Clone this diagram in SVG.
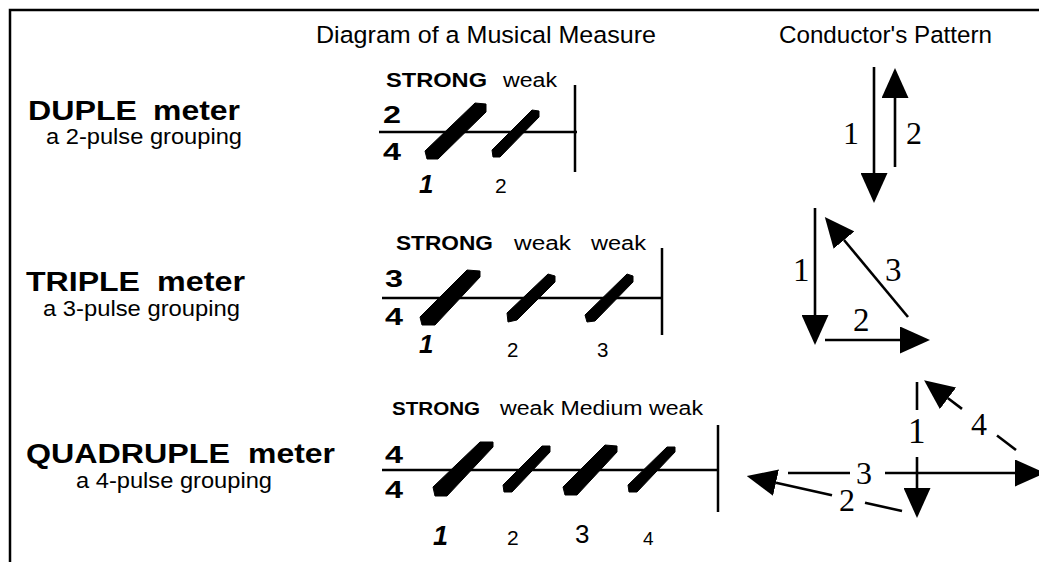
<svg xmlns="http://www.w3.org/2000/svg" width="1039" height="562" viewBox="0 0 1039 562">
<defs>
<style>
.sans{font-family:"Liberation Sans",Arial,sans-serif;fill:#000}
.b{font-weight:bold}
.ser{font-family:"Liberation Serif","Times New Roman",serif;fill:#000}
.ln{stroke:#000;stroke-width:2.5;fill:none}
.conn{stroke:#000;stroke-width:2.6;fill:none}
.sl{fill:#000;stroke:#000;stroke-width:1;stroke-linejoin:round}
</style>
<marker id="ah" viewBox="0 0 30 27" refX="0" refY="13.5" markerWidth="30" markerHeight="27" markerUnits="userSpaceOnUse" orient="auto">
<path d="M0,0 L30,13.5 L0,27 Z" fill="#000"/>
</marker>
</defs>
<rect width="1039" height="562" fill="#fff"/>
<g id="frame"><path d="M10,562 V10 H1039" class="ln" stroke-width="2.2"/></g>

<g id="headers">
<text class="sans" x="316" y="43" font-size="24.5" textLength="340" lengthAdjust="spacingAndGlyphs">Diagram of a Musical Measure</text>
<text class="sans" x="779" y="43" font-size="24.5" textLength="213" lengthAdjust="spacingAndGlyphs">Conductor's Pattern</text>
</g>

<g id="duple-label">
<text class="sans b" y="120" font-size="27"><tspan x="28" textLength="109" lengthAdjust="spacingAndGlyphs">DUPLE</tspan> <tspan x="153" textLength="87" lengthAdjust="spacingAndGlyphs">meter</tspan></text>
<text class="sans" x="46" y="144" font-size="22.5" textLength="196" lengthAdjust="spacingAndGlyphs">a 2-pulse grouping</text>
</g>
<g id="triple-label">
<text class="sans b" y="291" font-size="27"><tspan x="26" textLength="114" lengthAdjust="spacingAndGlyphs">TRIPLE</tspan> <tspan x="157" textLength="88" lengthAdjust="spacingAndGlyphs">meter</tspan></text>
<text class="sans" x="43" y="316" font-size="22" textLength="197" lengthAdjust="spacingAndGlyphs">a 3-pulse grouping</text>
</g>
<g id="quadruple-label">
<text class="sans b" y="463" font-size="27"><tspan x="26" textLength="204" lengthAdjust="spacingAndGlyphs">QUADRUPLE</tspan> <tspan x="248" textLength="87" lengthAdjust="spacingAndGlyphs">meter</tspan></text>
<text class="sans" x="76" y="488" font-size="22.5" textLength="196" lengthAdjust="spacingAndGlyphs">a 4-pulse grouping</text>
</g>

<g id="duple-measure">
<text class="sans b" x="386" y="87" font-size="19.5" textLength="101" lengthAdjust="spacingAndGlyphs">STRONG</text>
<text class="sans" x="503" y="87" font-size="20" textLength="54" lengthAdjust="spacingAndGlyphs">weak</text>
<text class="sans b" x="383" y="123" font-size="24" textLength="18" lengthAdjust="spacingAndGlyphs">2</text>
<text class="sans b" x="383" y="160" font-size="24" textLength="18" lengthAdjust="spacingAndGlyphs">4</text>
<line class="ln" x1="379" y1="132" x2="577" y2="132"/>
<line class="ln" x1="575" y1="85" x2="575" y2="172"/>
<polygon class="sl" points="425,151 427,159 438,159 486,112 486,104 475,103"/>
<polygon class="sl" points="492,150 493,157 500,157 539,117 539,111 532,110"/>
<text class="sans b" x="419" y="193" font-size="26" font-style="italic">1</text>
<text class="sans" x="495" y="193" font-size="21">2</text>
</g>

<g id="triple-measure">
<text class="sans b" x="396" y="250" font-size="19.5" textLength="97" lengthAdjust="spacingAndGlyphs">STRONG</text>
<text class="sans" x="514" y="250" font-size="20" textLength="57" lengthAdjust="spacingAndGlyphs">weak</text>
<text class="sans" x="591" y="250" font-size="20" textLength="55" lengthAdjust="spacingAndGlyphs">weak</text>
<text class="sans b" x="385" y="287" font-size="24" textLength="18" lengthAdjust="spacingAndGlyphs">3</text>
<text class="sans b" x="385" y="325" font-size="24" textLength="18" lengthAdjust="spacingAndGlyphs">4</text>
<line class="ln" x1="382" y1="298" x2="662" y2="298"/>
<line class="ln" x1="662" y1="248" x2="662" y2="335"/>
<polygon class="sl" points="420,317 422,325 435,325 480,277 480,271 467,270"/>
<polygon class="sl" points="507,313 508,322 517,320 555,282 555,276 548,274"/>
<polygon class="sl" points="585,315 587,322 595,321 633,282 633,276 627,274"/>
<text class="sans b" x="419" y="353" font-size="26" font-style="italic">1</text>
<text class="sans" x="507" y="357" font-size="20.5">2</text>
<text class="sans" x="597" y="357" font-size="20.5">3</text>
</g>

<g id="quadruple-measure">
<text class="sans b" x="392" y="415" font-size="19" textLength="88" lengthAdjust="spacingAndGlyphs">STRONG</text>
<text class="sans" x="500" y="415" font-size="20" textLength="203" lengthAdjust="spacingAndGlyphs">weak Medium weak</text>
<text class="sans b" x="385" y="463" font-size="23" textLength="18" lengthAdjust="spacingAndGlyphs">4</text>
<text class="sans b" x="385" y="498" font-size="23" textLength="18" lengthAdjust="spacingAndGlyphs">4</text>
<line class="ln" x1="382" y1="470" x2="718" y2="470"/>
<line class="ln" x1="718" y1="425" x2="718" y2="512"/>
<polygon class="sl" points="433,487 435,496 447,496 493,447 493,442 480,442"/>
<polygon class="sl" points="503,485 504,492 512,492 550,452 550,446 542,446"/>
<polygon class="sl" points="563,487 565,495 577,495 617,452 617,446 605,445"/>
<polygon class="sl" points="628,485 629,492 637,492 675,452 675,447 667,447"/>
<text class="sans b" x="433" y="545" font-size="27" font-style="italic">1</text>
<text class="sans" x="507" y="545" font-size="21">2</text>
<text class="sans" x="575" y="543" font-size="26">3</text>
<text class="sans" x="643" y="545" font-size="19">4</text>
</g>

<g id="duple-pattern">
<text class="ser" x="843" y="144" font-size="32">1</text>
<text class="ser" x="906" y="144" font-size="32">2</text>
</g>
<g id="triple-pattern">
<text class="ser" x="793" y="281" font-size="33">1</text>
<text class="ser" x="853" y="331" font-size="33">2</text>
<text class="ser" x="885" y="281" font-size="33">3</text>
</g>
<g id="quadruple-pattern">
<text class="ser" x="908" y="443" font-size="35">1</text>
<text class="ser" x="839" y="511" font-size="32">2</text>
<text class="ser" x="856" y="484" font-size="32">3</text>
<text class="ser" x="971" y="435" font-size="32">4</text>
</g>

<g id="connectors">
<line class="conn" x1="874" y1="67" x2="874" y2="173" marker-end="url(#ah)"/>
<line class="conn" x1="895" y1="167" x2="895" y2="98" marker-end="url(#ah)"/>
<line class="conn" x1="815" y1="208" x2="815" y2="315" marker-end="url(#ah)"/>
<line class="conn" x1="825" y1="340" x2="900" y2="340" marker-end="url(#ah)"/>
<line class="conn" x1="908" y1="317" x2="844" y2="240" marker-end="url(#ah)"/>
<line class="conn" x1="917" y1="382" x2="917" y2="410"/>
<line class="conn" x1="917" y1="457" x2="917" y2="488" marker-end="url(#ah)"/>
<line class="conn" x1="902" y1="511" x2="865" y2="502.7"/>
<line class="conn" x1="832" y1="495.3" x2="776" y2="482.7" marker-end="url(#ah)"/>
<line class="conn" x1="788" y1="473" x2="850" y2="473"/>
<line class="conn" x1="885" y1="473" x2="1015" y2="473" marker-end="url(#ah)"/>
<line class="conn" x1="1016" y1="450" x2="997" y2="435.5"/>
<line class="conn" x1="962" y1="408.9" x2="948" y2="398.3" marker-end="url(#ah)"/>
</g>
</svg>
